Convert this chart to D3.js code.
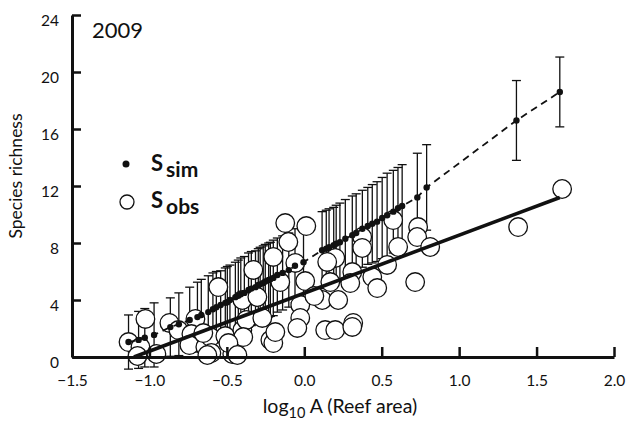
<!DOCTYPE html>
<html>
<head>
<meta charset="utf-8">
<script src="https://cdnjs.cloudflare.com/ajax/libs/d3/7.8.5/d3.min.js"></script>
<style>
    body { margin: 0; background: #fff; }
    svg text { font-family: Lato, "Open Sans", sans-serif; fill: #111; }
</style>
</head>
<body>
<svg id="chart" width="631" height="423"></svg>
<script>
// observed richness per reef (log10 area, species)
const obsX = [-1.135, -1.026, -1.058, -1.077, -0.955, -0.871, -0.813, -0.703, -0.729, -0.742,
    -0.639, -0.606, -0.555, -0.600, -0.510, -0.465, -0.400, -0.374, -0.400, -0.303,
    -0.329, -0.271, -0.219, -0.200, -0.187, -0.394, -0.490, -0.432, -0.626, -0.652,
    -0.123, 0.013, -0.103, -0.200, -0.058, -0.155, 0.006, -0.026, -0.026, -0.045,
    0.135, 0.200, 0.316, 0.310, 0.116, 0.219, 0.168, 0.200, 0.148, 0.310,
    0.297, 0.374, 0.374, 0.439, 0.471, 0.535, 0.606, 0.574, 0.716, 0.735,
    0.729, 0.813, 1.381, 1.665, 0.065];
const obsY = [1.05, 2.67, 0.70, 0.07, 0.21, 2.39, 1.89, 2.67, 1.61, 0.84,
    0.70, 1.40, 4.91, 0.28, 1.47, 0.21, 1.89, 2.60, 4.00, 4.21,
    6.11, 2.74, 1.19, 0.98, 1.75, 1.40, 0.98, 0.14, 0.14, 1.68,
    9.40, 9.19, 8.07, 7.02, 6.60, 5.26, 5.33, 3.65, 2.74, 2.04,
    1.89, 1.89, 2.39, 2.11, 4.00, 4.00, 5.26, 6.95, 6.67, 5.96,
    5.19, 8.42, 7.65, 5.61, 4.84, 6.46, 7.72, 9.61, 5.26, 9.12,
    8.42, 7.72, 9.12, 11.79, 4.28];

// simulated richness (mean and SD)
const simX = [-1.135, -1.07, -1.03, -0.97, -0.865, -0.81, -0.74, -0.69, -0.665, -0.62,
    -0.59, -0.568, -0.54, -0.51, -0.497, -0.48, -0.445, -0.426, -0.41, -0.387,
    -0.36, -0.342, -0.315, -0.297, -0.285, -0.265, -0.252, -0.23, -0.219, -0.20,
    -0.174, -0.14, -0.10, -0.06, -0.005, 0.115, 0.142, 0.16, 0.19, 0.206,
    0.23, 0.265, 0.31, 0.335, 0.375, 0.41, 0.439, 0.47, 0.503, 0.535,
    0.575, 0.605, 0.632, 0.73, 0.79, 1.37, 1.65];
const simY = [1.05, 1.2, 1.35, 1.55, 2.1, 2.3, 2.6, 2.8, 2.95, 3.15,
    3.35, 3.5, 3.65, 3.8, 3.85, 4.0, 4.2, 4.3, 4.4, 4.5,
    4.7, 4.8, 4.9, 5.05, 5.1, 5.2, 5.3, 5.4, 5.45, 5.55,
    5.75, 5.9, 6.1, 6.4, 6.65, 7.5, 7.6, 7.7, 7.85, 7.95,
    8.05, 8.3, 8.55, 8.7, 9.0, 9.2, 9.35, 9.5, 9.75, 9.95,
    10.2, 10.45, 10.6, 11.2, 11.9, 16.6, 18.6];
const simSD = [1.9, 2.0, 2.05, 2.25, 2.05, 2.2, 2.3, 2.45, 2.5, 2.55,
    2.55, 2.5, 2.4, 2.45, 2.5, 2.45, 2.45, 2.5, 2.55, 2.55,
    2.6, 2.6, 2.55, 2.55, 2.6, 2.6, 2.6, 2.6, 2.6, 2.65,
    2.6, 2.6, 2.6, 2.6, 2.6, 2.7, 2.7, 2.7, 2.65, 2.7,
    2.75, 2.75, 2.75, 2.75, 2.7, 2.7, 2.75, 2.8, 2.85, 2.95,
    2.9, 2.85, 2.9, 3.1, 3.0, 2.8, 2.45];

// regression of observed richness: [intercept, slope], drawn over fitRange
const obsFit = [4.48, 4.07];
const fitRange = [-1.1, 1.65];

const xTicks = [-1.5, -1.0, -0.5, 0.0, 0.5, 1.0, 1.5, 2.0];
const yTicks = [0, 4, 8, 12, 16, 20, 24];

const margin = {top: 15, right: 17, bottom: 66, left: 72};
const width = 631, height = 423;

const svg = d3.select('#chart');

let x = d3.scaleLinear()
    .domain([-1.5, 2.0])
    .range([margin.left, width - margin.right]);
let y = d3.scaleLinear()
    .domain([0, 24])
    .range([height - margin.bottom, margin.top]);

// error bars
let bars = svg.append('g')
    .attr('stroke', '#111')
    .attr('stroke-width', 1.3);
simX.forEach(function(d, i) {
    let lo = y(simY[i] - simSD[i]), hi = y(simY[i] + simSD[i]);
    bars.append('line')
        .attr('x1', x(d)).attr('x2', x(d))
        .attr('y1', lo).attr('y2', hi);
    bars.append('line')
        .attr('x1', x(d) - 4.5).attr('x2', x(d) + 4.5)
        .attr('y1', hi).attr('y2', hi);
    bars.append('line')
        .attr('x1', x(d) - 4.5).attr('x2', x(d) + 4.5)
        .attr('y1', lo).attr('y2', lo);
});

// observed circles
svg.append('g')
    .selectAll('circle')
    .data(obsX)
    .enter()
    .append('circle')
        .attr('cx', function(d) {return x(d)})
        .attr('cy', function(d, i) {return y(obsY[i])})
        .attr('r', 9.3)
        .style('fill', '#fff')
        .style('stroke', '#111')
        .style('stroke-width', 1.3);

// observed fit
svg.append('line')
    .attr('x1', x(fitRange[0]))
    .attr('y1', y(obsFit[0] + obsFit[1] * fitRange[0]))
    .attr('x2', x(fitRange[1]))
    .attr('y2', y(obsFit[0] + obsFit[1] * fitRange[1]))
    .attr('stroke', '#111')
    .attr('stroke-width', 3.6);

// simulated curve
let simLine = d3.line()
    .x(function(d) {return x(d)})
    .y(function(d, i) {return y(simY[i])});
svg.append('path')
    .attr('d', simLine(simX))
    .attr('fill', 'none')
    .attr('stroke', '#111')
    .attr('stroke-width', 1.8)
    .attr('stroke-dasharray', '7,5');

svg.append('g')
    .selectAll('circle')
    .data(simX)
    .enter()
    .append('circle')
        .attr('cx', function(d) {return x(d)})
        .attr('cy', function(d, i) {return y(simY[i])})
        .attr('r', 3.2)
        .style('fill', '#111');

// axes
let xAxis = d3.axisBottom(x)
    .tickValues(xTicks)
    .tickFormat(d3.format('.1f'))
    .tickSizeInner(-10)
    .tickSizeOuter(0)
    .tickPadding(18);
let yAxis = d3.axisLeft(y)
    .tickValues(yTicks)
    .tickSizeInner(-9)
    .tickSizeOuter(0)
    .tickPadding(13);

let gx = svg.append('g')
    .attr('transform', 'translate(0,' + y(0) + ')')
    .call(xAxis);
let gy = svg.append('g')
    .attr('transform', 'translate(' + x(-1.5) + ',0)')
    .call(yAxis);

[gx, gy].forEach(function(g) {
    g.select('.domain').attr('stroke', '#111').attr('stroke-width', 3);
    g.selectAll('.tick line').attr('stroke', '#111').attr('stroke-width', 2.5);
    g.selectAll('.tick text')
        .style('font-family', 'Lato, sans-serif')
        .style('font-size', '15.5px')
        .attr('fill', '#222');
});
gy.selectAll('.tick text').attr('y', 6);

// titles
svg.append('text')
    .attr('x', 92).attr('y', 38)
    .style('font-size', '22px')
    .text('2009');

let xt = svg.append('text')
    .attr('x', 340).attr('y', 413)
    .attr('text-anchor', 'middle')
    .style('font-size', '19.5px');
xt.append('tspan').text('log');
xt.append('tspan').attr('dy', 5).style('font-size', '14.5px').text('10');
xt.append('tspan').attr('dy', -5).text(' A (Reef area)');

svg.append('text')
    .attr('transform', 'translate(22,176) rotate(-90)')
    .attr('text-anchor', 'middle')
    .style('font-size', '17.5px')
    .text('Species richness');

// legend
svg.append('circle')
    .attr('cx', 126).attr('cy', 164).attr('r', 3.5)
    .style('fill', '#111');
svg.append('circle')
    .attr('cx', 127).attr('cy', 202).attr('r', 7)
    .style('fill', '#fff').style('stroke', '#111').style('stroke-width', 1.3);

let l1 = svg.append('text')
    .attr('x', 151).attr('y', 171)
    .style('font-size', '22px').style('font-weight', 'bold');
l1.append('tspan').text('S');
l1.append('tspan').attr('dx', 3).attr('dy', 6).style('font-size', '21px').text('sim');

let l2 = svg.append('text')
    .attr('x', 151).attr('y', 208)
    .style('font-size', '22px').style('font-weight', 'bold');
l2.append('tspan').text('S');
l2.append('tspan').attr('dx', 3).attr('dy', 6).style('font-size', '21px').text('obs');
</script>
</body>
</html>
